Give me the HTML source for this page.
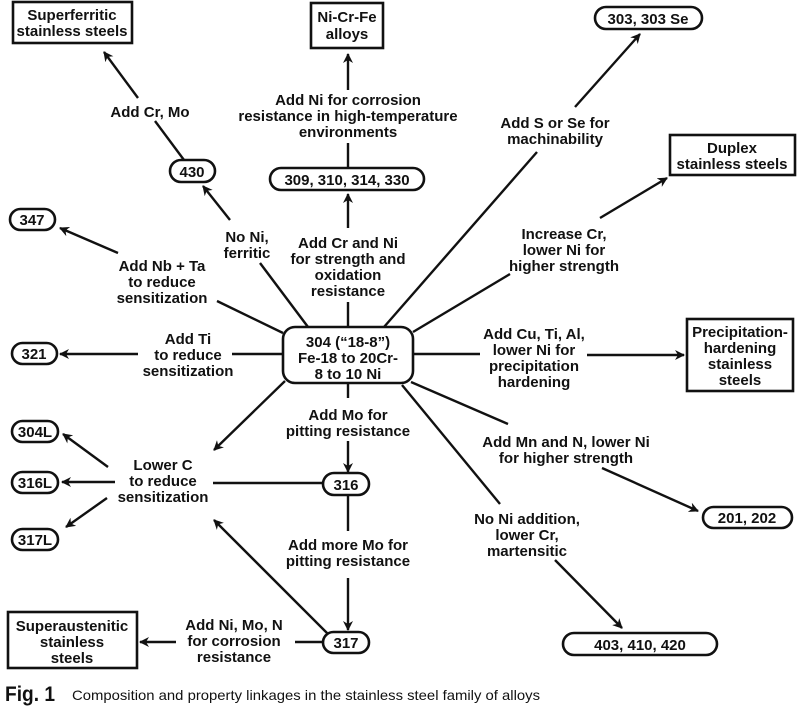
<!DOCTYPE html>
<html><head><meta charset="utf-8"><style>
html,body{margin:0;padding:0;background:#fff;}
svg{display:block;}
text{font-family:"Liberation Sans",Arial,sans-serif;font-weight:bold;font-size:15px;fill:#111;text-anchor:middle;}
.cap{font-weight:normal;font-size:14px;text-anchor:start;}
</style></head><body>
<svg width="800" height="712" viewBox="0 0 800 712" xmlns="http://www.w3.org/2000/svg">
<defs>
<marker id="a" markerWidth="10" markerHeight="10" refX="9" refY="5" orient="auto" markerUnits="userSpaceOnUse" viewBox="0 0 10 10">
<path d="M0,0 L10,5 L0,10 L3,5 z" fill="#111"/>
</marker>
</defs>
<g stroke="#111" stroke-width="2.6" fill="none">
<!-- boxes -->
<rect x="13" y="2" width="119" height="41"/>
<rect x="311" y="3" width="72" height="45"/>
<rect x="670" y="135" width="125" height="40"/>
<rect x="687" y="319" width="106" height="72"/>
<rect x="8" y="612" width="129" height="56"/>
<!-- pills -->
<rect x="595" y="7" width="107" height="22" rx="11"/>
<rect x="270" y="168" width="154" height="22" rx="11"/>
<rect x="170" y="160" width="45" height="22" rx="11"/>
<rect x="10" y="209" width="45" height="21" rx="10.5"/>
<rect x="12" y="343" width="45" height="21" rx="10.5"/>
<rect x="12" y="421" width="46" height="21" rx="10.5"/>
<rect x="12" y="472" width="46" height="21" rx="10.5"/>
<rect x="12" y="529" width="46" height="21" rx="10.5"/>
<rect x="323" y="473" width="46" height="22" rx="11"/>
<rect x="323" y="632" width="46" height="21" rx="10.5"/>
<rect x="703" y="507" width="89" height="21" rx="10.5"/>
<rect x="563" y="633" width="154" height="22" rx="11"/>
<rect x="283" y="327" width="130" height="56" rx="12"/>
</g>
<g stroke="#111" stroke-width="2.4" fill="none">
<!-- up -->
<line x1="348" y1="327" x2="348" y2="302"/>
<line x1="348" y1="228" x2="348" y2="194" marker-end="url(#a)"/>
<line x1="348" y1="168" x2="348" y2="143"/>
<line x1="348" y1="90" x2="348" y2="54" marker-end="url(#a)"/>
<!-- 430 -->
<line x1="308" y1="327" x2="260" y2="263"/>
<line x1="230" y1="220" x2="203" y2="186" marker-end="url(#a)"/>
<line x1="184" y1="160" x2="155" y2="121"/>
<line x1="138" y1="98" x2="104" y2="52" marker-end="url(#a)"/>
<!-- 347 -->
<line x1="283" y1="333" x2="217" y2="301"/>
<line x1="118" y1="253" x2="60" y2="228" marker-end="url(#a)"/>
<!-- 321 -->
<line x1="283" y1="354" x2="232" y2="354"/>
<line x1="138" y1="354" x2="60" y2="354" marker-end="url(#a)"/>
<!-- lower left -->
<line x1="285" y1="381" x2="214" y2="450" marker-end="url(#a)"/>
<line x1="108" y1="467" x2="63" y2="434" marker-end="url(#a)"/>
<line x1="115" y1="482" x2="62" y2="482" marker-end="url(#a)"/>
<line x1="107" y1="498" x2="66" y2="527" marker-end="url(#a)"/>
<line x1="213" y1="483" x2="323" y2="483"/>
<!-- down -->
<line x1="348" y1="383" x2="348" y2="398"/>
<line x1="348" y1="441" x2="348" y2="472" marker-end="url(#a)"/>
<line x1="348" y1="495" x2="348" y2="531"/>
<line x1="348" y1="578" x2="348" y2="630" marker-end="url(#a)"/>
<line x1="328" y1="634" x2="214" y2="520" marker-end="url(#a)"/>
<line x1="323" y1="642" x2="295" y2="642"/>
<line x1="176" y1="642" x2="140" y2="642" marker-end="url(#a)"/>
<!-- right -->
<line x1="384" y1="327" x2="537" y2="152"/>
<line x1="575" y1="107" x2="640" y2="34" marker-end="url(#a)"/>
<line x1="413" y1="332" x2="510" y2="274"/>
<line x1="600" y1="218" x2="667" y2="178" marker-end="url(#a)"/>
<line x1="413" y1="354" x2="480" y2="354"/>
<line x1="587" y1="355" x2="684" y2="355" marker-end="url(#a)"/>
<line x1="411" y1="382" x2="508" y2="424"/>
<line x1="602" y1="468" x2="698" y2="511" marker-end="url(#a)"/>
<line x1="402" y1="385" x2="500" y2="504"/>
<line x1="555" y1="560" x2="622" y2="628" marker-end="url(#a)"/>
</g>
<!-- labels -->
<text x="72" y="20">Superferritic</text>
<text x="72" y="36">stainless steels</text>
<text x="347" y="22">Ni-Cr-Fe</text>
<text x="347" y="39">alloys</text>
<text x="648" y="24">303, 303 Se</text>
<text x="732" y="153">Duplex</text>
<text x="732" y="169">stainless steels</text>
<text x="740" y="337">Precipitation-</text>
<text x="740" y="353">hardening</text>
<text x="740" y="369">stainless</text>
<text x="740" y="385">steels</text>
<text x="72" y="631">Superaustenitic</text>
<text x="72" y="647">stainless</text>
<text x="72" y="663">steels</text>
<text x="347" y="185">309, 310, 314, 330</text>
<text x="192" y="177">430</text>
<text x="32" y="225">347</text>
<text x="34" y="359">321</text>
<text x="35" y="437">304L</text>
<text x="35" y="488">316L</text>
<text x="35" y="545">317L</text>
<text x="346" y="490">316</text>
<text x="346" y="648">317</text>
<text x="747" y="523">201, 202</text>
<text x="640" y="650">403, 410, 420</text>
<text x="348" y="347">304 (“18-8”)</text>
<text x="348" y="363">Fe-18 to 20Cr-</text>
<text x="348" y="379">8 to 10 Ni</text>
<text x="348" y="105">Add Ni for corrosion</text>
<text x="348" y="121">resistance in high-temperature</text>
<text x="348" y="137">environments</text>
<text x="348" y="248">Add Cr and Ni</text>
<text x="348" y="264">for strength and</text>
<text x="348" y="280">oxidation</text>
<text x="348" y="296">resistance</text>
<text x="247" y="242">No Ni,</text>
<text x="247" y="258">ferritic</text>
<text x="150" y="117">Add Cr, Mo</text>
<text x="162" y="271">Add Nb + Ta</text>
<text x="162" y="287">to reduce</text>
<text x="162" y="303">sensitization</text>
<text x="188" y="344">Add Ti</text>
<text x="188" y="360">to reduce</text>
<text x="188" y="376">sensitization</text>
<text x="163" y="470">Lower C</text>
<text x="163" y="486">to reduce</text>
<text x="163" y="502">sensitization</text>
<text x="348" y="420">Add  Mo for</text>
<text x="348" y="436">pitting resistance</text>
<text x="348" y="550">Add more Mo for</text>
<text x="348" y="566">pitting resistance</text>
<text x="234" y="630">Add Ni, Mo, N</text>
<text x="234" y="646">for corrosion</text>
<text x="234" y="662">resistance</text>
<text x="555" y="128">Add S or Se for</text>
<text x="555" y="144">machinability</text>
<text x="564" y="239">Increase Cr,</text>
<text x="564" y="255">lower Ni for</text>
<text x="564" y="271">higher strength</text>
<text x="534" y="339">Add Cu, Ti, Al,</text>
<text x="534" y="355">lower Ni for</text>
<text x="534" y="371">precipitation</text>
<text x="534" y="387">hardening</text>
<text x="566" y="447">Add Mn and N, lower Ni</text>
<text x="566" y="463">for higher strength</text>
<text x="527" y="524">No Ni addition,</text>
<text x="527" y="540">lower Cr,</text>
<text x="527" y="556">martensitic</text>
<text x="5" y="701" style="font-size:21px;text-anchor:start" textLength="50" lengthAdjust="spacingAndGlyphs">Fig. 1</text>
<text class="cap" x="72" y="700" textLength="468" lengthAdjust="spacingAndGlyphs">Composition and property linkages in the stainless steel family of alloys</text>
</svg>
</body></html>
